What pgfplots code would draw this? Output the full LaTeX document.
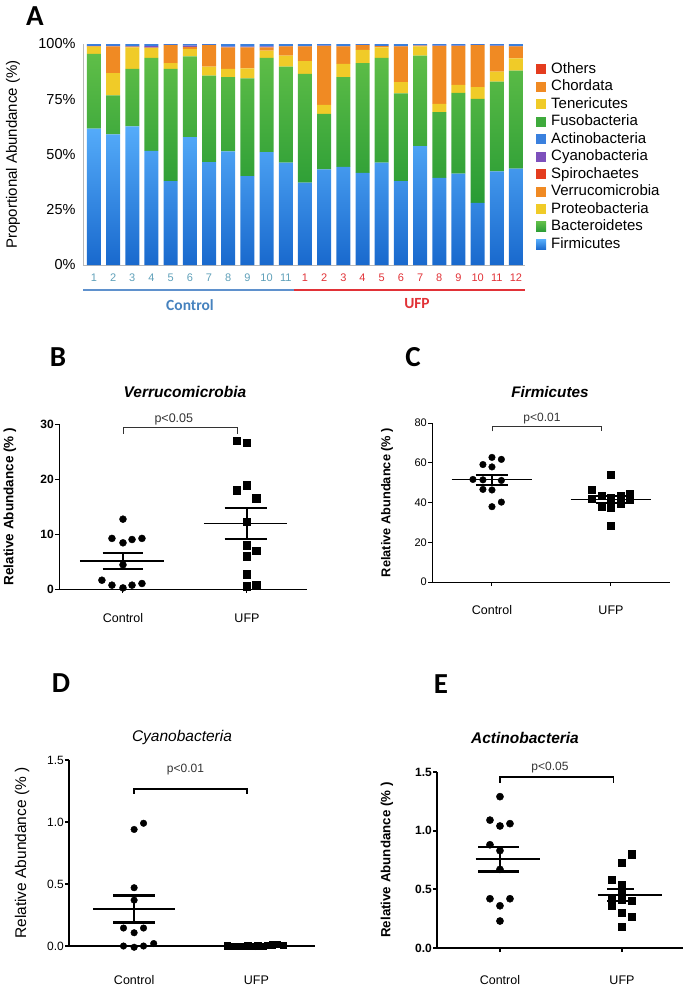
\documentclass[border=0pt]{standalone}
\usepackage{pgfplots}
\usepackage{pgfplotstable}
\pgfplotsset{compat=1.18}
\usepackage{fontspec}
\setmainfont{Liberation Sans}
\newfontfamily\calib{Carlito}
\newcommand{\fs}[1]{\fontsize{#1}{#1}\selectfont}
\definecolor{firmT}{RGB}{85,172,250}
\definecolor{firmB}{RGB}{25,105,205}
\definecolor{bact}{RGB}{62,170,60}
\definecolor{bactT}{RGB}{95,190,72}
\definecolor{bactB}{RGB}{40,155,52}
\definecolor{prot}{RGB}{240,203,40}
\definecolor{verr}{RGB}{240,138,35}
\definecolor{spir}{RGB}{228,60,30}
\definecolor{cyano}{RGB}{125,80,188}
\definecolor{actino}{RGB}{58,128,222}
\definecolor{ctlnum}{RGB}{95,160,185}
\definecolor{ctlline}{RGB}{95,145,205}
\definecolor{ctltext}{RGB}{70,130,190}
\definecolor{ufpred}{RGB}{225,50,55}

\pgfplotstableread{
x F B P V S Cy Ac Fu T Ch O
0 61.7 33.8 3.3 0.2 0 0.2 0.8 0 0 0 0
1 59.1 17.6 10.1 12.1 0 0.3 0.8 0 0 0 0
2 62.7 26.0 9.8 0.3 0 0.2 1.0 0 0 0 0
3 51.6 42.1 4.5 0.2 0 0.6 1.0 0 0 0 0
4 37.9 50.8 2.6 8.2 0 0.1 0.4 0 0 0 0
5 57.9 36.5 3.3 1.0 0 0.6 0.7 0 0 0 0
6 46.6 39.1 4.1 9.7 0 0.1 0.4 0 0 0 0
7 51.4 33.6 3.7 9.8 0 0.3 1.2 0 0 0 0
8 40.2 44.3 4.5 9.5 0 0.3 1.2 0 0 0 0
9 51.1 42.6 3.3 1.5 0 0.4 1.1 0 0 0 0
10 46.3 43.5 4.9 4.2 0 0.1 1.0 0 0 0 0
11 37.3 49.2 5.7 6.7 0 0.1 1.0 0 0 0 0
12 43.3 25.1 4.1 26.7 0 0.1 0.7 0 0 0 0
13 44.4 40.6 6.0 7.9 0 0.1 1.0 0 0 0 0
14 41.7 49.6 6.0 2.2 0 0.1 0.4 0 0 0 0
15 46.3 47.4 4.8 0.5 0 0.2 0.8 0 0 0 0
16 37.9 39.8 5.0 16.2 0 0.1 1.0 0 0 0 0
17 53.8 40.9 4.2 0.4 0 0.1 0.6 0 0 0 0
18 39.4 29.8 3.7 26.3 0 0.1 0.7 0 0 0 0
19 41.4 36.5 3.6 17.7 0 0.1 0.7 0 0 0 0
20 28.1 47.1 5.3 19.0 0 0.1 0.4 0 0 0 0
21 42.4 40.6 4.5 11.7 0 0.1 0.7 0 0 0 0
22 43.6 44.4 5.5 5.4 0 0.1 1.0 0 0 0 0
}\stackdata

\pgfplotsset{
  scat/.style={scale only axis, anchor=south west, axis lines*=left, clip=false,
    tick align=outside, major tick length=4pt, xtick={0,1}, xticklabels={Control,UFP},
    ymin=0, axis line style={line width=1pt}, tick style={line width=1pt, black},
    /pgf/number format/assume math mode=true,
    every axis y label/.style={at={(axis description cs:0,0.5)},rotate=90,anchor=center},
    yticklabel style={inner sep=1pt}},
  mk/.style={only marks, mark=*, mark size=3.5pt, black},
  sq/.style={only marks, mark=square*, mark size=3.7pt, black},
}

\begin{document}
\begin{tikzpicture}
\path[use as bounding box] (0pt,0pt) rectangle (685pt,-988pt);

% ---------------- Panel A ----------------
\begin{axis}[
  at={(83pt,-265pt)}, anchor=south west, scale only axis, width=442pt, height=221pt,
  ybar stacked, bar width=14pt,
  xmin=-0.57, xmax=22.47, ymin=0, ymax=100,
  axis lines*=left, axis line style={gray!55, line width=0.8pt},
  tick style={draw=none},
  /pgf/number format/assume math mode=true,
  ytick={0,25,50,75,100}, yticklabels={0\%,25\%,50\%,75\%,100\%},
  yticklabel style={font=\fs{14.5}, xshift=-4pt},
  xtick={0,...,22},
  xticklabels={\textcolor{ctlnum}{1},\textcolor{ctlnum}{2},\textcolor{ctlnum}{3},\textcolor{ctlnum}{4},\textcolor{ctlnum}{5},\textcolor{ctlnum}{6},\textcolor{ctlnum}{7},\textcolor{ctlnum}{8},\textcolor{ctlnum}{9},\textcolor{ctlnum}{10},\textcolor{ctlnum}{11},
    \textcolor{ufpred}{1},\textcolor{ufpred}{2},\textcolor{ufpred}{3},\textcolor{ufpred}{4},\textcolor{ufpred}{5},\textcolor{ufpred}{6},\textcolor{ufpred}{7},\textcolor{ufpred}{8},\textcolor{ufpred}{9},\textcolor{ufpred}{10},\textcolor{ufpred}{11},\textcolor{ufpred}{12}},
  xticklabel style={font=\fs{11}, anchor=center, yshift=-13pt},
  every axis y label/.style={at={(axis description cs:0,0.5)}, rotate=90, anchor=center, yshift=70pt},
  ylabel={Proportional Abundance (\%)},
  ylabel style={font=\fs{15}},
  reverse legend,
  legend cell align=left,
  legend image code/.code={\fill[#1] (0pt,-5pt) rectangle (10pt,5pt);},
  legend style={at={(1.0249,0.9163)}, anchor=north west, draw=none, fill=none,
    font=\fs{15}, row sep=4pt, inner sep=0pt,
    nodes={inner sep=0pt, text height=10.5pt, text depth=3pt},
    /tikz/every odd column/.append style={column sep=5pt}},
  clip=false,
]
\addplot[draw=none, top color=firmT, bottom color=firmB] table[x=x,y=F]{\stackdata};
\addplot[draw=none, top color=bactT, bottom color=bactB] table[x=x,y=B]{\stackdata};
\addplot[draw=none, fill=prot] table[x=x,y=P]{\stackdata};
\addplot[draw=none, fill=verr] table[x=x,y=V]{\stackdata};
\addplot[draw=none, fill=spir] table[x=x,y=S]{\stackdata};
\addplot[draw=none, fill=cyano] table[x=x,y=Cy]{\stackdata};
\addplot[draw=none, fill=actino] table[x=x,y=Ac]{\stackdata};
\addplot[draw=none, fill=bact] table[x=x,y=Fu]{\stackdata};
\addplot[draw=none, fill=prot] table[x=x,y=T]{\stackdata};
\addplot[draw=none, fill=verr] table[x=x,y=Ch]{\stackdata};
\addplot[draw=none, fill=spir] table[x=x,y=O]{\stackdata};
\legend{Firmicutes,Bacteroidetes,Proteobacteria,Verrucomicrobia,Spirochaetes,Cyanobacteria,Actinobacteria,Fusobacteria,Tenericutes,Chordata,Others}
\end{axis}
\draw[ctlline, line width=1.5pt] (83pt,-290pt) -- (294pt,-290pt);
\draw[ufpred, line width=1.5pt] (294pt,-290pt) -- (525pt,-290pt);
\node[font=\calib\bfseries\fs{15.5}, text=ctltext] at (190pt,-305pt) {Control};
\node[font=\calib\bfseries\fs{15.5}, text=ufpred] at (417pt,-304pt) {UFP};
\node[font=\calib\bfseries\fs{29}] at (35pt,-16pt) {A};

% ---------------- Panel B ----------------
\begin{axis}[scat, at={(59pt,-589pt)}, width=248pt, height=165pt,
  xmin=-0.516, xmax=1.484, ymax=30,
  ytick={0,10,20,30}, yticklabels={0,10,20,30},
  yticklabel style={font=\bfseries\fs{12}},
  xticklabel style={font=\fs{12.5}, anchor=center, yshift=-25pt},
  ylabel={Relative Abundance (\% )}, ylabel style={font=\bfseries\fs{13.5}, yshift=49pt}]
\addplot[mk] coordinates {(0,12.7) (-0.089,9.2) (0,8.4) (0.073,9.0) (0.153,9.2) (0,4.4) (-0.17,1.6) (-0.089,0.7) (0,0.2) (0.073,0.7) (0.153,1.0)};
\addplot[sq] coordinates {(0.919,27.0) (1,26.6) (0.919,18.0) (1,18.9) (1.075,16.5) (1,12.2) (1,8.0) (1.075,7.0) (1,6.0) (1,2.7) (1,0.5) (1.075,0.7)};
\addplot[black, line width=1.3pt] coordinates {(-0.347,5.1) (0.33,5.1)};
\addplot[black, line width=1.8pt] coordinates {(-0.165,6.5) (0.165,6.5)};
\addplot[black, line width=1.8pt] coordinates {(-0.165,3.7) (0.165,3.7)};
\addplot[black, line width=1.8pt] coordinates {(0,3.7) (0,6.5)};
\addplot[black, line width=1.3pt] coordinates {(0.653,11.9) (1.32,11.9)};
\addplot[black, line width=1.8pt] coordinates {(0.82,14.7) (1.16,14.7)};
\addplot[black, line width=1.8pt] coordinates {(0.82,9.1) (1.16,9.1)};
\addplot[black, line width=1.8pt] coordinates {(1,9.1) (1,14.7)};
\addplot[black!80, line width=0.8pt] coordinates {(0,28.2) (0,29.3) (0.92,29.3) (0.92,28.2)};
\node[font=\fs{12.5}, text=black!80] at (axis cs:0.41,30.9) {p<0.05};
\end{axis}
\node[font=\bfseries\itshape\fs{15.5}] at (185pt,-392pt) {Verrucomicrobia};
\node[font=\calib\bfseries\fs{29}] at (58pt,-357pt) {B};

% ---------------- Panel C ----------------
\begin{axis}[scat, at={(432pt,-582pt)}, width=238pt, height=159pt,
  xmin=-0.504, xmax=1.496, ymax=80,
  ytick={0,20,40,60,80}, yticklabels={0,20,40,60,80},
  yticklabel style={font=\fs{11}},
  mk/.append style={mark size=3.3pt}, sq/.append style={mark size=3.5pt},
  xticklabel style={font=\fs{12.5}, anchor=center, yshift=-24pt},
  ylabel={Relative Abundance (\% )}, ylabel style={font=\bfseries\fs{12.8}, yshift=45pt}]
\addplot[mk] coordinates {(0,62.7) (0.079,61.7) (-0.076,59.1) (0,57.9) (-0.16,51.6) (-0.076,51.4) (0.079,51.1) (-0.076,46.6) (0,46.3) (0.079,40.2) (0,37.9)};
\addplot[sq] coordinates {(1,53.8) (0.84,46.3) (1.158,44.4) (0.92,43.3) (1.079,43.6) (1,42.4) (0.84,41.7) (1.158,41.4) (1.079,39.4) (0.92,37.9) (1,37.3) (1,28.1)};
\addplot[black, line width=1.3pt] coordinates {(-0.34,51.5) (0.34,51.5)};
\addplot[black, line width=1.8pt] coordinates {(-0.135,54.0) (0.135,54.0)};
\addplot[black, line width=1.8pt] coordinates {(-0.135,49.0) (0.135,49.0)};
\addplot[black, line width=1.8pt] coordinates {(0,49.0) (0,54.0)};
\addplot[black, line width=1.3pt] coordinates {(0.66,41.6) (1.34,41.6)};
\addplot[black, line width=1.8pt] coordinates {(0.87,43.4) (1.13,43.4)};
\addplot[black, line width=1.8pt] coordinates {(0.87,39.8) (1.13,39.8)};
\addplot[black, line width=1.8pt] coordinates {(1,39.8) (1,43.4)};
\addplot[black!80, line width=0.8pt] coordinates {(0,75.8) (0,78.3) (0.92,78.3) (0.92,75.8)};
\node[font=\fs{12}, text=black!80] at (axis cs:0.42,82) {p<0.01};
\end{axis}
\node[font=\bfseries\itshape\fs{15.3}] at (550pt,-392pt) {Firmicutes};
\node[font=\calib\bfseries\fs{29}] at (413pt,-357pt) {C};

% ---------------- Panel D ----------------
\begin{axis}[scat, at={(69pt,-946pt)}, width=246pt, height=186pt,
  xmin=-0.533, xmax=1.48, ymax=1.5,
  axis line style={line width=2.2pt}, tick style={line width=2pt, black},
  ytick={0,0.5,1,1.5}, yticklabels={0.0,0.5,1.0,1.5},
  yticklabel style={font=\fs{12}},
  mk/.append style={mark size=3.3pt}, sq/.append style={mark size=3.3pt},
  xticklabel style={font=\fs{12.5}, anchor=center, yshift=-30pt},
  ylabel={Relative Abundance (\% )}, ylabel style={font=\fs{15.5}, yshift=47pt}]
\addplot[mk] coordinates {(0.077,0.99) (0,0.94) (0,0.47) (0,0.37) (-0.087,0.145) (0.077,0.145) (0,0.107) (-0.087,0.0) (0,-0.01) (0.077,0.0) (0.16,0.02)};
\addplot[sq] coordinates {(0.76,0.004) (0.81,0.0) (0.85,0.0) (0.89,0.0) (0.93,0.002) (0.97,0.0) (1.01,0.003) (1.05,0.0) (1.09,0.006) (1.13,0.012) (1.17,0.015) (1.22,0.008)};
\addplot[black, line width=1.8pt] coordinates {(-0.336,0.30) (0.336,0.30)};
\addplot[black, line width=2.6pt] coordinates {(-0.17,0.405) (0.17,0.405)};
\addplot[black, line width=2.6pt] coordinates {(-0.17,0.19) (0.17,0.19)};
\addplot[black, line width=2.6pt] coordinates {(0,0.19) (0,0.405)};
\addplot[black, line width=1.8pt] coordinates {(0.66,0.004) (1.34,0.004)};
\addplot[black, line width=1.8pt] coordinates {(0,1.226) (0,1.266) (0.926,1.266) (0.926,1.226)};
\node[font=\fs{12}, text=black!80] at (axis cs:0.42,1.42) {p<0.01};
\end{axis}
\node[font=\itshape\fs{15.5}] at (182pt,-737pt) {Cyanobacteria};
\node[font=\calib\bfseries\fs{29}] at (61pt,-683pt) {D};

% ---------------- Panel E ----------------
\begin{axis}[scat, at={(437pt,-948pt)}, width=246pt, height=176pt,
  xmin=-0.516, xmax=1.5, ymax=1.5,
  axis line style={line width=2.2pt}, tick style={line width=2pt, black},
  ytick={0,0.5,1,1.5}, yticklabels={0.0,0.5,1.0,1.5},
  yticklabel style={font=\bfseries\fs{12}},
  mk/.append style={mark size=3.6pt}, sq/.append style={mark size=3.6pt},
  xticklabel style={font=\fs{12.5}, anchor=center, yshift=-28pt},
  ylabel={Relative Abundance (\% )}, ylabel style={font=\bfseries\fs{13.3}, yshift=50pt}]
\addplot[mk] coordinates {(0,1.29) (-0.082,1.09) (0,1.04) (0.082,1.06) (-0.082,0.88) (0,0.83) (0,0.67) (-0.082,0.42) (0.082,0.42) (0,0.36) (0,0.23)};
\addplot[sq] coordinates {(1.077,0.80) (1,0.73) (0.918,0.58) (1,0.54) (1,0.47) (0.918,0.43) (1.077,0.40) (1,0.41) (0.918,0.36) (1,0.30) (1.077,0.27) (1,0.18)};
\addplot[black, line width=1.8pt] coordinates {(-0.2,0.756) (0.33,0.756)};
\addplot[black, line width=2.6pt] coordinates {(-0.18,0.862) (0.16,0.862)};
\addplot[black, line width=2.6pt] coordinates {(-0.18,0.65) (0.16,0.65)};
\addplot[black, line width=2.6pt] coordinates {(0,0.65) (0,0.862)};
\addplot[black, line width=1.8pt] coordinates {(0.8,0.453) (1.33,0.453)};
\addplot[black, line width=2.6pt] coordinates {(0.88,0.503) (1.1,0.503)};
\addplot[black, line width=2.6pt] coordinates {(0.88,0.40) (1.1,0.40)};
\addplot[black, line width=2.6pt] coordinates {(1,0.40) (1,0.503)};
\addplot[black, line width=1.8pt] coordinates {(0,1.41) (0,1.457) (0.93,1.457) (0.93,1.41)};
\node[font=\fs{12}, text=black!80] at (axis cs:0.41,1.54) {p<0.05};
\end{axis}
\node[font=\bfseries\itshape\fs{15.5}] at (525pt,-738pt) {Actinobacteria};
\node[font=\calib\bfseries\fs{29}] at (441pt,-684pt) {E};
\end{tikzpicture}
\end{document}
